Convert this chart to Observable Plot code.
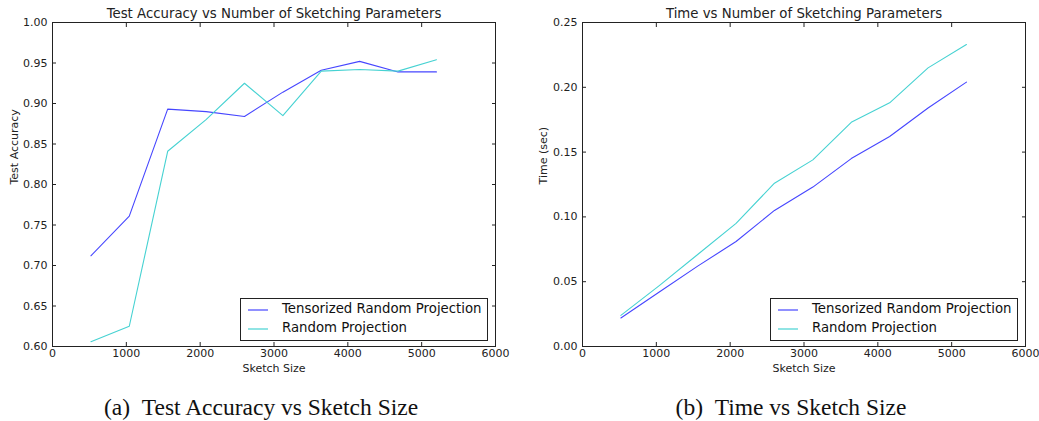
<!DOCTYPE html>
<html><head><meta charset="utf-8">
<script src="https://cdn.jsdelivr.net/npm/d3@7"></script>
<script src="https://cdn.jsdelivr.net/npm/@observablehq/plot@0.6"></script>
<style>
body{margin:0;background:#fff;}
#wrap{position:relative;width:1039px;height:421px;font-family:"DejaVu Sans",sans-serif;overflow:hidden;}
.panel{position:absolute;top:0;}
.legend{position:absolute;border:1px solid #222;background:#fff;font-size:13.3px;color:#111;box-sizing:border-box;}
.legend .row{position:absolute;left:0;white-space:nowrap;line-height:16px;}
.legend svg{position:absolute;left:7px;top:7px;}
.legend span{position:absolute;left:41px;top:0;}
.cap{position:absolute;top:394px;font-family:"Liberation Serif",serif;font-size:23.5px;color:#111;white-space:nowrap;transform:translateX(-50%);}
</style></head>
<body><div id="wrap"></div>
<script>
const sketchSize = [520, 1040, 1560, 2080, 2600, 3120, 3640, 4160, 4680, 5200];
const accTRP = [0.712, 0.761, 0.893, 0.890, 0.884, 0.914, 0.941, 0.952, 0.939, 0.939];
const accRP  = [0.606, 0.625, 0.841, 0.880, 0.925, 0.885, 0.940, 0.942, 0.940, 0.954];
const timeTRP = [0.022, 0.042, 0.062, 0.081, 0.105, 0.123, 0.145, 0.162, 0.184, 0.204];
const timeRP  = [0.024, 0.047, 0.071, 0.095, 0.126, 0.144, 0.173, 0.188, 0.215, 0.233];
const xTicks = [0, 1000, 2000, 3000, 4000, 5000, 6000];
const accTicks = [0.60, 0.65, 0.70, 0.75, 0.80, 0.85, 0.90, 0.95, 1.00];
const timeTicks = [0.00, 0.05, 0.10, 0.15, 0.20, 0.25];
const seriesNames = ["Tensorized Random Projection", "Random Projection"];
const seriesColors = ["#4646ff", "#46d2d2"];
const titles = ["Test Accuracy vs Number of Sketching Parameters", "Time vs Number of Sketching Parameters"];
const yLabels = ["Test Accuracy", "Time (sec)"];
const xLabel = "Sketch Size";
const captions = ["(a)\u2002Test Accuracy vs Sketch Size", "(b)\u2002Time vs Sketch Size"];

function rows(a, b) {
  return sketchSize.flatMap((x, i) => [
    {x, y: a[i], s: seriesNames[0]},
    {x, y: b[i], s: seriesNames[1]}
  ]);
}

function chart({data, yDomain, yTicks, title, yLabel, width, marginLeft, marginRight, yLabelDx}) {
  const ink = "#222";
  return Plot.plot({
    width, height: 380,
    marginLeft, marginRight, marginTop: 22, marginBottom: 34,
    style: {fontFamily: "DejaVu Sans", fontSize: "11px", background: "white", color: ink},
    x: {domain: [0, 6000]},
    y: {domain: yDomain},
    color: {domain: seriesNames, range: seriesColors},
    marks: [
      Plot.lineY(data, {x: "x", y: "y", z: "s", stroke: "s", strokeWidth: 1.1}),
      Plot.frame({stroke: ink, strokeWidth: 1}),
      Plot.axisX({ticks: xTicks, tickSize: 0, tickPadding: 3, label: null, tickFormat: d3.format("d"), fontSize: 11, fill: ink}),
      Plot.axisX({ticks: xTicks, tickSize: -4, fill: "none", label: null, stroke: ink}),
      Plot.axisX({anchor: "top", ticks: xTicks, tickSize: -4, fill: "none", label: null, stroke: ink}),
      Plot.axisY({ticks: yTicks, tickSize: 0, tickPadding: 5, label: null, tickFormat: d3.format(".2f"), fontSize: 11, fill: ink}),
      Plot.axisY({ticks: yTicks, tickSize: -4, fill: "none", label: null, stroke: ink}),
      Plot.axisY({anchor: "right", ticks: yTicks, tickSize: -4, fill: "none", label: null, stroke: ink}),
      Plot.text([title], {frameAnchor: "top", dy: -9, fontSize: 13.3, fill: ink, lineAnchor: "middle"}),
      Plot.text([xLabel], {frameAnchor: "bottom", dy: 22, fontSize: 11, fill: ink, lineAnchor: "middle"}),
      Plot.text([yLabel], {frameAnchor: "left", dx: yLabelDx, rotate: -90, fontSize: 11, fill: ink, lineAnchor: "middle"})
    ]
  });
}

function legend(left) {
  const el = document.createElement("div");
  el.className = "legend";
  Object.assign(el.style, {left: left + "px", top: "298px", width: "248px", height: "43px"});
  seriesNames.forEach((name, i) => {
    const r = document.createElement("div");
    r.className = "row";
    r.style.top = (2 + i * 19) + "px";
    r.style.width = "100%";
    r.style.height = "18px";
    r.innerHTML = `<svg width="20" height="4"><line x1="0" x2="20" y1="2" y2="2" stroke="${seriesColors[i]}" stroke-width="1.2"/></svg><span>${name}</span>`;
    el.appendChild(r);
  });
  return el;
}

const wrap = document.getElementById("wrap");
const panels = [
  {left: 0, opts: {data: rows(accTRP, accRP), yDomain: [0.6, 1.0], yTicks: accTicks, title: titles[0], yLabel: yLabels[0], width: 520, marginLeft: 52, marginRight: 25, yLabelDx: -38}, legendLeft: 240, capX: 261},
  {left: 520, opts: {data: rows(timeTRP, timeRP), yDomain: [0, 0.25], yTicks: timeTicks, title: titles[1], yLabel: yLabels[1], width: 519, marginLeft: 62, marginRight: 14, yLabelDx: -39}, legendLeft: 770, capX: 791}
];
panels.forEach((p, i) => {
  const d = document.createElement("div");
  d.className = "panel";
  d.style.left = p.left + "px";
  d.appendChild(chart(p.opts));
  wrap.appendChild(d);
  wrap.appendChild(legend(p.legendLeft));
  const c = document.createElement("div");
  c.className = "cap";
  c.style.left = p.capX + "px";
  c.textContent = captions[i];
  wrap.appendChild(c);
});
</script></body></html>
